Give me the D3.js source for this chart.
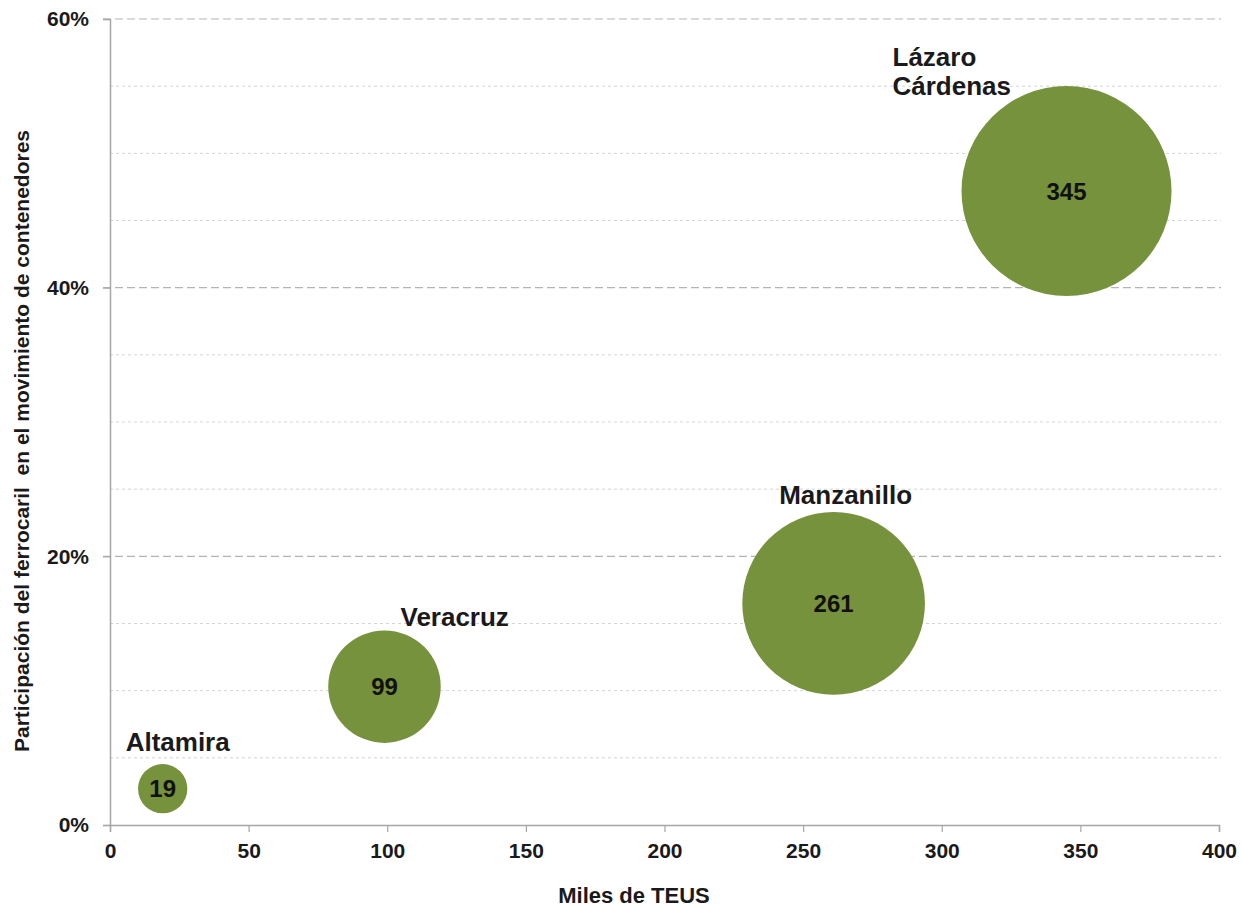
<!DOCTYPE html>
<html>
<head>
<meta charset="utf-8">
<script src="https://cdn.jsdelivr.net/npm/d3@7"></script>
<style>
  html, body { margin: 0; padding: 0; background: #fff; }
  svg { display: block; font-family: "Liberation Sans", Arial, sans-serif; }
</style>
</head>
<body>
<svg id="chart" width="1241" height="908"></svg>
<script>
// Ports and their container traffic
const ports = ["Altamira", "Veracruz", "Manzanillo", "Lázaro Cárdenas"];
const teus = [19, 99, 261, 345];                 // miles de TEUS (x and bubble size)
const railShare = [0.027, 0.103, 0.165, 0.472];  // participación del ferrocarril
const xTicks = [0, 50, 100, 150, 200, 250, 300, 350, 400];
const yMajorTicks = [0, 0.2, 0.4, 0.6];
const yMinorTicks = [0.05, 0.1, 0.15, 0.25, 0.3, 0.35, 0.45, 0.5, 0.55];

const svg = d3.select("#chart");
const plot = { left: 110, right: 1219, top: 19, bottom: 825 };

const x = d3.scaleLinear().domain([0, 400]).range([plot.left, plot.right]);
const y = d3.scaleLinear().domain([0, 0.6]).range([plot.bottom, plot.top]);
const r = d3.scaleSqrt().domain([0, 345]).range([0, 105]);

const textColor = "#1a1a1a";
const axisColor = "#a6a6a6";
const font = "'Liberation Sans', Arial, sans-serif";

// Minor gridlines (dotted)
svg.append("g").selectAll("line").data(yMinorTicks).join("line")
  .attr("x1", plot.left).attr("x2", plot.right + 2)
  .attr("y1", d => y(d)).attr("y2", d => y(d))
  .attr("stroke", "#d4d4d4").attr("stroke-width", 1)
  .attr("stroke-dasharray", "3,3");

// Major gridlines (dashed)
svg.append("g").selectAll("line").data(yMajorTicks.filter(d => d > 0)).join("line")
  .attr("x1", plot.left - 7).attr("x2", plot.right + 2)
  .attr("y1", d => y(d)).attr("y2", d => y(d))
  .attr("stroke", "#b3b3b3").attr("stroke-width", 1.2)
  .attr("stroke-dasharray", "8,4");

// Y axis
const yAxis = svg.append("g")
  .attr("transform", `translate(${plot.left},0)`)
  .call(d3.axisLeft(y).tickValues(yMajorTicks).tickFormat(d3.format(".0%")).tickSize(7).tickPadding(14));
yAxis.select(".domain").attr("stroke", axisColor).attr("stroke-width", 1.5);
yAxis.selectAll(".tick line").attr("stroke", axisColor).attr("stroke-width", 1.2);
yAxis.selectAll(".tick text")
  .attr("fill", textColor).attr("font-size", 21).attr("font-weight", "bold")
  .attr("font-family", font);

// X axis
const xAxis = svg.append("g")
  .attr("transform", `translate(0,${plot.bottom})`)
  .call(d3.axisBottom(x).tickValues(xTicks).tickFormat(d3.format("d")).tickSize(7).tickPadding(11));
xAxis.select(".domain").attr("stroke", axisColor).attr("stroke-width", 1.5);
xAxis.selectAll(".tick line").attr("stroke", axisColor).attr("stroke-width", 1.2);
xAxis.selectAll(".tick text")
  .attr("fill", textColor).attr("font-size", 21).attr("font-weight", "bold")
  .attr("font-family", font);

const data = ports.map((p, i) => ({ port: p, teus: teus[i], share: railShare[i] }));

// Bubbles
svg.append("g").selectAll("circle").data(data).join("circle")
  .attr("cx", d => x(d.teus)).attr("cy", d => y(d.share))
  .attr("r", d => r(d.teus))
  .attr("fill", "#76923c");

// Value labels inside bubbles
svg.append("g").selectAll("text").data(data).join("text")
  .attr("x", d => x(d.teus)).attr("y", d => y(d.share))
  .attr("dy", "0.36em")
  .attr("text-anchor", "middle")
  .attr("font-size", 24).attr("font-weight", "bold").attr("fill", "#111")
  .text(d => d.teus);

// Port name labels placed above each bubble
const labelLayout = {
  "Altamira": { dx: 15, dy: 13, anchor: "middle" },
  "Veracruz": { dx: 16, dy: 4, anchor: "start" },
  "Manzanillo": { dx: 12, dy: 8, anchor: "middle" },
  "Lázaro Cárdenas": { dx: -174, dy: -9, anchor: "start" }
};
const names = svg.append("g").selectAll("text").data(data).join("text")
  .attr("text-anchor", d => labelLayout[d.port].anchor)
  .attr("font-size", 26).attr("font-weight", "bold").attr("fill", textColor);
names.each(function(d) {
  const L = labelLayout[d.port];
  const cx = x(d.teus) + L.dx;
  const base = y(d.share) - r(d.teus) - L.dy;
  const lines = d.port === "Lázaro Cárdenas" ? ["Lázaro", "Cárdenas"] : [d.port];
  const t = d3.select(this);
  lines.forEach((ln, k) => {
    t.append("tspan").attr("x", cx)
      .attr("y", base - (lines.length - 1 - k) * 29)
      .text(ln);
  });
});

// Axis titles
svg.append("text")
  .attr("x", 634).attr("y", 903)
  .attr("text-anchor", "middle")
  .attr("font-size", 22).attr("font-weight", "bold").attr("fill", textColor)
  .text("Miles de TEUS");

svg.append("text")
  .attr("transform", "translate(29,441) rotate(-90)")
  .attr("text-anchor", "middle")
  .attr("font-size", 21).attr("font-weight", "bold").attr("fill", textColor)
  .style("white-space", "pre")
  .text("Participación del ferrocaril  en el movimiento de contenedores");
</script>
</body>
</html>
